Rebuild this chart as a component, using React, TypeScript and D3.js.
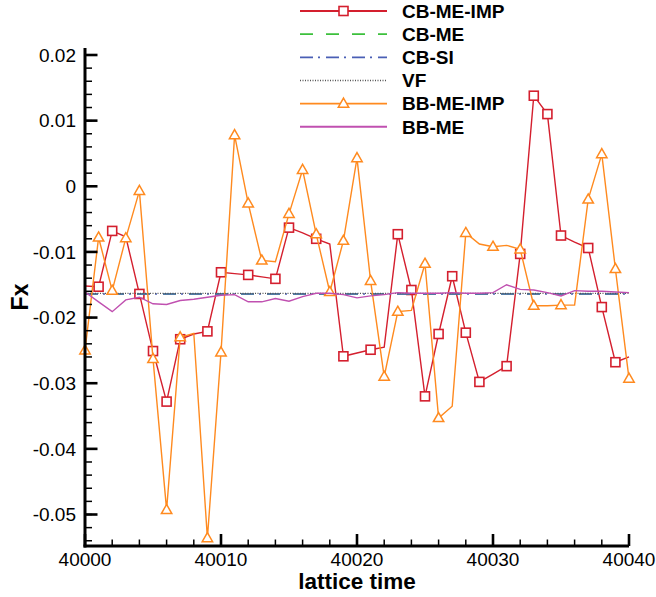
import React from "react";
import * as d3 from "d3";

const times: number[] = d3.range(40000, 40041);

const cbMeImp = [
  -0.0152, -0.0153, -0.0068, -0.0077, -0.0164, -0.0251, -0.0328, -0.0233, -0.0225, -0.0221,
  -0.0131, -0.0133, -0.0135, -0.0138, -0.0141, -0.0063, -0.0071, -0.008, -0.0088, -0.0259,
  -0.0254, -0.0249, -0.0245, -0.0073, -0.0158, -0.032, -0.0225, -0.0137, -0.0223, -0.0298,
  -0.0286, -0.0274, -0.0103, 0.0138, 0.011, -0.0075, -0.0085, -0.0094, -0.0184, -0.0268, -0.026,
];
const cbMeImpMarkers = [1, 2, 4, 5, 6, 7, 9, 10, 12, 14, 15, 17, 19, 21, 23, 24, 25, 26, 27, 28, 29, 31, 32, 33, 34, 35, 37, 38, 39];

const cbMe = [
  -0.0164, -0.0164, -0.0164, -0.0164, -0.0164, -0.0164, -0.0164, -0.0164, -0.0164, -0.0164,
  -0.0164, -0.0164, -0.0164, -0.0164, -0.0164, -0.0164, -0.0164, -0.0164, -0.0164, -0.0164,
  -0.0164, -0.0164, -0.0164, -0.0164, -0.0164, -0.0164, -0.0164, -0.0164, -0.0164, -0.0164,
  -0.0164, -0.0164, -0.0164, -0.0164, -0.0164, -0.0164, -0.0164, -0.0164, -0.0164, -0.0164, -0.0164,
];
const cbSi = [
  -0.0164, -0.0164, -0.0164, -0.0164, -0.0164, -0.0164, -0.0164, -0.0164, -0.0164, -0.0164,
  -0.0164, -0.0164, -0.0164, -0.0164, -0.0164, -0.0164, -0.0164, -0.0164, -0.0164, -0.0164,
  -0.0164, -0.0164, -0.0164, -0.0164, -0.0164, -0.0164, -0.0164, -0.0164, -0.0164, -0.0164,
  -0.0164, -0.0164, -0.0164, -0.0164, -0.0164, -0.0164, -0.0164, -0.0164, -0.0164, -0.0164, -0.0164,
];
const vf = [
  -0.0163, -0.0163, -0.0163, -0.0163, -0.0163, -0.0163, -0.0163, -0.0163, -0.0163, -0.0163,
  -0.0163, -0.0163, -0.0163, -0.0163, -0.0163, -0.0163, -0.0163, -0.0163, -0.0163, -0.0163,
  -0.0163, -0.0163, -0.0163, -0.0163, -0.0163, -0.0163, -0.0163, -0.0163, -0.0163, -0.0163,
  -0.0163, -0.0163, -0.0163, -0.0163, -0.0163, -0.0163, -0.0163, -0.0163, -0.0163, -0.0163, -0.0163,
];

const bbMeImp = [
  -0.025, -0.0078, -0.0159, -0.0079, -0.0007, -0.0263, -0.0493, -0.023, -0.0224, -0.0536,
  -0.0253, 0.0078, -0.0026, -0.0113, -0.0115, -0.0042, 0.0025, -0.0073, -0.0161, -0.0083,
  0.0043, -0.0144, -0.029, -0.0191, -0.0189, -0.0118, -0.0353, -0.0335, -0.0071, -0.0088,
  -0.0092, -0.009, -0.0096, -0.0182, -0.0182, -0.0181, -0.0181, -0.002, 0.0049, -0.0126, -0.0293,
];
const bbMeImpMarkers = [0, 1, 2, 3, 4, 5, 6, 7, 9, 10, 11, 12, 13, 15, 16, 17, 18, 19, 20, 21, 22, 23, 25, 26, 28, 30, 32, 33, 35, 37, 38, 39, 40];

const bbMe = [
  -0.0161, -0.0176, -0.0191, -0.0173, -0.0169, -0.0179, -0.018, -0.0174, -0.0172, -0.0169,
  -0.0166, -0.0165, -0.0176, -0.0176, -0.0171, -0.0175, -0.0168, -0.0163, -0.0163, -0.0165,
  -0.017, -0.0167, -0.0165, -0.0162, -0.0163, -0.0163, -0.0163, -0.0162, -0.0163, -0.0163,
  -0.0162, -0.015, -0.0157, -0.0158, -0.0162, -0.0167, -0.0159, -0.016, -0.016, -0.0161, -0.0162,
];

const yTicks = [0.02, 0.01, 0, -0.01, -0.02, -0.03, -0.04, -0.05];
const yTickLabels = ["0.02", "0.01", "0", "-0.01", "-0.02", "-0.03", "-0.04", "-0.05"];
const xTicks = [40000, 40010, 40020, 40030, 40040];
const xTickLabels = ["40000", "40010", "40020", "40030", "40040"];
const legendNames = ["CB-ME-IMP", "CB-ME", "CB-SI", "VF", "BB-ME-IMP", "BB-ME"];

const RED = "#d41f2e";
const GREEN = "#3cc03c";
const BLUE = "#4a5fb5";
const GRAY = "#555555";
const ORANGE = "#ff8a1f";
const MAGENTA = "#c050b0";

const FONT = "'Liberation Sans', Arial, Helvetica, sans-serif";

type Series = {
  name: string;
  values: number[];
  color: string;
  dash?: string;
  width: number;
  marker?: "square" | "triangle";
  markers?: number[];
};

const series: Series[] = [
  { name: legendNames[0], values: cbMeImp, color: RED, width: 1.4, marker: "square", markers: cbMeImpMarkers },
  { name: legendNames[1], values: cbMe, color: GREEN, width: 1.4, dash: "13,13" },
  { name: legendNames[2], values: cbSi, color: BLUE, width: 1.4, dash: "13,5,2,6" },
  { name: legendNames[3], values: vf, color: GRAY, width: 1.2, dash: "1,1.5" },
  { name: legendNames[4], values: bbMeImp, color: ORANGE, width: 1.4, marker: "triangle", markers: bbMeImpMarkers },
  { name: legendNames[5], values: bbMe, color: MAGENTA, width: 1.4 },
];

function Marker({ kind, x, y, color }: { kind: string; x: number; y: number; color: string }) {
  if (kind === "square") {
    return <rect x={x - 4.5} y={y - 4.5} width={9} height={9} fill="white" stroke={color} strokeWidth={1.6} />;
  }
  return (
    <path
      d={`M${x},${y - 5.5}L${x + 5.2},${y + 3.6}L${x - 5.2},${y + 3.6}Z`}
      fill="white"
      stroke={color}
      strokeWidth={1.5}
    />
  );
}

export default function App() {
  const W = 656;
  const H = 597;
  const left = 85;
  const right = 629;
  const top = 48;
  const bottom = 546;

  const x = d3.scaleLinear().domain([40000, 40040]).range([left, right]);
  const y = d3.scaleLinear().domain([0.02, -0.05]).range([55, 514.5]);

  const line = (vals: number[]) =>
    d3
      .line<number>()
      .x((_, i) => x(times[i]))
      .y((v) => y(v))(vals) || "";

  const yMinor = d3.range(-0.054, 0.0201, 0.002).filter((v) => y(v) >= top - 0.5 && y(v) <= bottom);
  const xMinor = d3.range(40000, 40041, 2);

  const legX1 = 300;
  const legX2 = 387;
  const legY0 = 11;
  const legDy = 23.15;

  return (
    <svg width={W} height={H} style={{ position: "absolute", left: 0, top: 0, background: "white" }}>
      <rect x={0} y={0} width={W} height={H} fill="white" />
      {series.map((s) => (
        <g key={s.name}>
          <path d={line(s.values)} fill="none" stroke={s.color} strokeWidth={s.width} strokeDasharray={s.dash} />
          {s.marker &&
            s.markers!.map((i) => (
              <Marker key={i} kind={s.marker!} x={x(times[i])} y={y(s.values[i])} color={s.color} />
            ))}
        </g>
      ))}

      <g stroke="black">
        {yMinor.map((v, i) => (
          <line key={"ym" + i} x1={left} x2={left + 7} y1={y(v)} y2={y(v)} strokeWidth={1.5} />
        ))}
        {yTicks.map((v) => (
          <line key={"yM" + v} x1={left} x2={left + 12.5} y1={y(v)} y2={y(v)} strokeWidth={2.6} />
        ))}
        {xMinor.map((t) => (
          <line key={"xm" + t} x1={x(t)} x2={x(t)} y1={bottom} y2={bottom - 6.5} strokeWidth={1.5} />
        ))}
        {xTicks.map((t) => (
          <line key={"xM" + t} x1={x(t)} x2={x(t)} y1={bottom} y2={bottom - 12} strokeWidth={2.6} />
        ))}
        <line x1={left} x2={left} y1={top} y2={bottom + 1.5} strokeWidth={3} />
        <line x1={left - 1.5} x2={right} y1={bottom} y2={bottom} strokeWidth={3} />
      </g>

      <g fontFamily={FONT} fontSize={19} fill="black">
        {yTicks.map((v, i) => (
          <text key={"yl" + v} x={left - 9} y={y(v)} dy="0.35em" textAnchor="end">
            {yTickLabels[i]}
          </text>
        ))}
        {xTicks.map((t, i) => (
          <text key={"xl" + t} x={x(t)} y={566} textAnchor="middle">
            {xTickLabels[i]}
          </text>
        ))}
      </g>

      <text x={(left + right) / 2} y={589} textAnchor="middle" fontFamily={FONT} fontWeight="bold" fontSize={22.5}>
        lattice time
      </text>
      <text
        transform={`translate(28,297) rotate(-90)`}
        textAnchor="middle"
        fontFamily={FONT}
        fontWeight="bold"
        fontSize={23}
      >
        Fx
      </text>

      {series.map((s, i) => {
        const ly = legY0 + i * legDy;
        return (
          <g key={"leg" + s.name}>
            <line x1={legX1} x2={legX2} y1={ly} y2={ly} stroke={s.color} strokeWidth={s.width + 0.4} strokeDasharray={s.dash} />
            {s.marker && <Marker kind={s.marker} x={(legX1 + legX2) / 2} y={ly} color={s.color} />}
            <text x={402} y={ly} dy="0.36em" fontFamily={FONT} fontWeight="bold" fontSize={19}>
              {s.name}
            </text>
          </g>
        );
      })}
    </svg>
  );
}
